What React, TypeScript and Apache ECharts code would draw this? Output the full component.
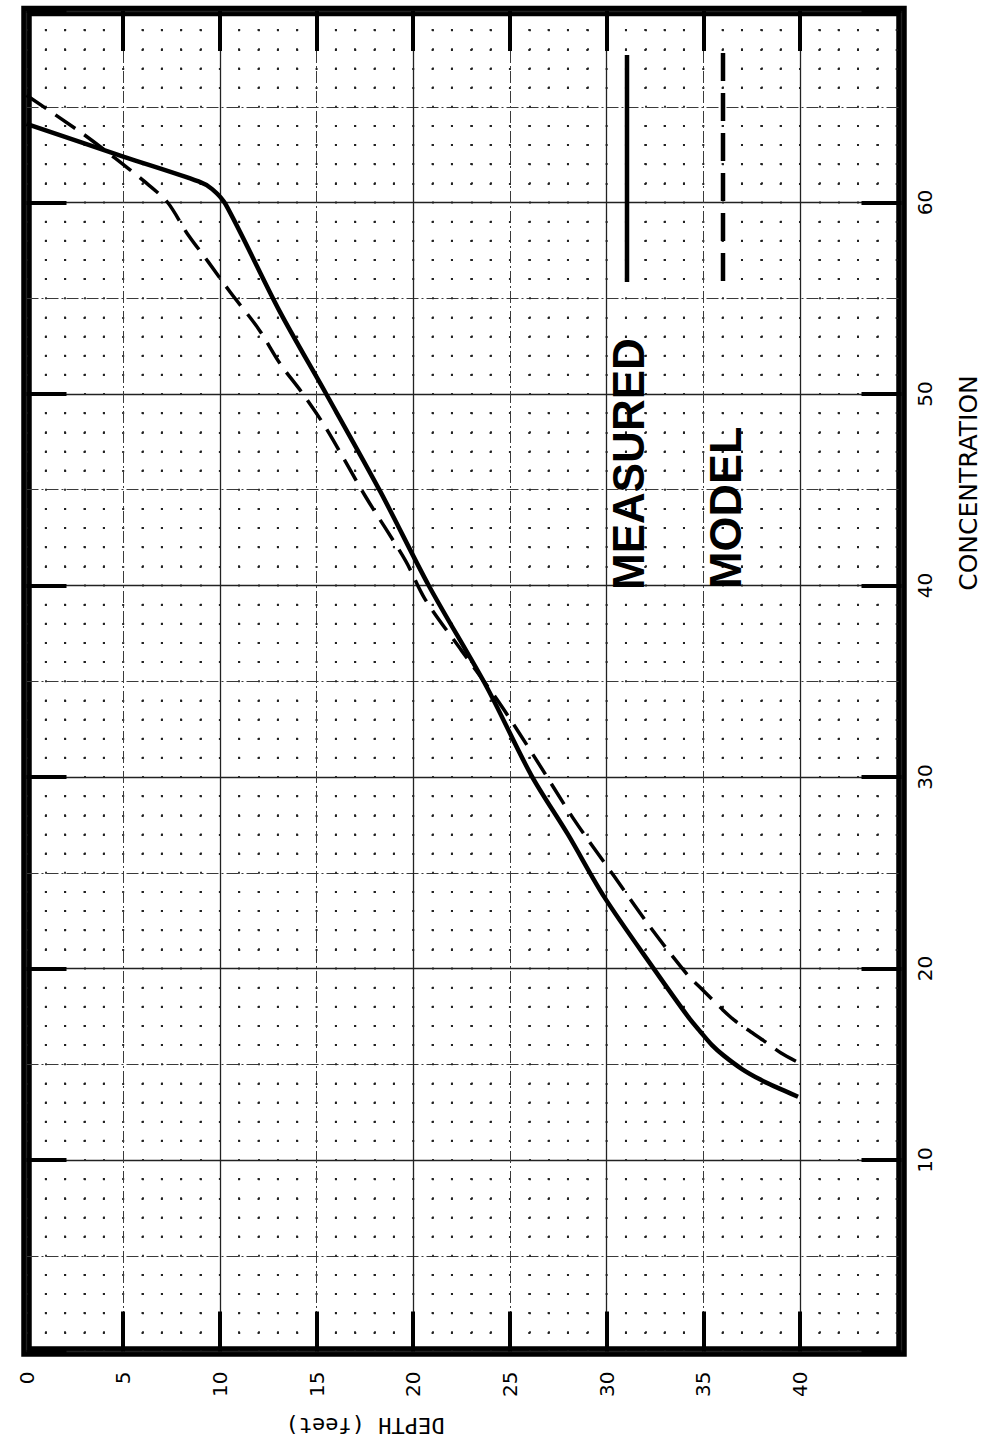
import React, { useEffect, useRef } from 'react';
import * as echarts from 'echarts';

// Tick labels / marks
const depthLabels = [0, 5, 10, 15, 20, 25, 30, 35, 40];
const depthMarks = [5, 10, 15, 20, 25, 30, 35, 40];
const concLabels = [10, 20, 30, 40, 50, 60];

// MEASURED curve (depth in feet, concentration)
const measuredDepth = [0, 5, 8.9, 9.6, 10.3, 13.1, 15.5, 18.3, 20.8, 23.8, 26.1, 28.0, 29.9, 32.5, 34.2, 34.85, 35.45, 36.06, 37.0, 37.95, 39.0, 39.9];
const measuredConc = [64.1, 62.4, 61.1, 60.7, 59.9, 54.3, 50.0, 44.9, 40.0, 34.7, 30.1, 27.0, 23.7, 19.9, 17.5, 16.7, 16.0, 15.45, 14.75, 14.2, 13.7, 13.3];

// MODEL curve
const modelDepth = [0, 2.9, 4.6, 6.1, 7.3, 8.3, 9.4, 10.55, 12.0, 13.1, 14.3, 15.5, 17.5, 19.6, 20.6, 22.5, 24.5, 26.3, 28.3, 30.4, 32.3, 34.2, 34.8, 35.4, 36.0, 36.6, 37.3, 38.1, 39.0, 39.9];
const modelConc = [65.6, 63.6, 62.3, 61.1, 60.0, 58.4, 56.9, 55.3, 53.4, 51.6, 50.0, 48.2, 44.7, 41.3, 39.3, 36.6, 33.8, 31.0, 27.8, 24.8, 22.1, 19.65, 19.05, 18.45, 17.85, 17.3, 16.8, 16.25, 15.6, 15.1];

const X_MAX = 45.25;
const Y_MAX = 70;

export default function App() {
  const ref = useRef<HTMLDivElement>(null);
  useEffect(() => {
    document.body.style.margin = '0';
    const chart = echarts.init(ref.current!, null, { renderer: 'svg' });
    const zip = (xs: number[], ys: number[]) => xs.map((x, i) => [x, ys[i]]);
    const gridL = 26.5, gridR = 84.5, gridT = 11, gridB = 100.5;
    const W = 986 - gridL - gridR;
    const H = 1452 - gridT - gridB;
    const xStep = W / X_MAX;
    const yStep = H / Y_MAX;
    const dotColor = '#222';
    const midLine = { color: '#3a3a3a', width: 1, type: [12, 3, 2, 3] as any };
    const majorLine = { color: '#222', width: 1.3 };
    const tickStyle = { color: '#000', width: 4 };
    const labelFont = { color: '#000', fontFamily: 'DejaVu Sans', fontSize: 20 };
    const noLine = { show: false, onZero: false };
    const hidden = { axisLine: noLine, axisTick: { show: false }, axisLabel: { show: false } };

    chart.setOption({
      animation: false,
      backgroundColor: '#fff',
      grid: {
        left: gridL, right: gridR, top: gridT, bottom: gridB,
        show: true, borderColor: '#000', borderWidth: 10.5, backgroundColor: 'transparent',
      },
      xAxis: [
        {
          type: 'value', position: 'bottom', min: 0, max: X_MAX, interval: 5,
          axisLine: noLine,
          axisTick: { show: true, inside: true, length: 40, customValues: depthMarks, lineStyle: tickStyle },
          axisLabel: { show: true, customValues: depthLabels, rotate: 90, margin: 20, ...labelFont },
          splitLine: { show: true, lineStyle: midLine },
          minorTick: { show: false, splitNumber: 5 },
          minorSplitLine: { show: true, lineStyle: { color: dotColor, width: 1.8, type: [2, yStep - 2], dashOffset: 1 } },
        },
        {
          type: 'value', position: 'bottom', min: 0, max: X_MAX, interval: 10, ...hidden,
          splitLine: { show: true, lineStyle: majorLine },
        },
        {
          type: 'value', position: 'top', min: 0, max: X_MAX, interval: 5,
          axisLine: noLine,
          axisTick: { show: true, inside: true, length: 40, customValues: depthMarks, lineStyle: tickStyle },
          axisLabel: { show: false },
          splitLine: { show: false },
        },
      ],
      yAxis: [
        {
          type: 'value', position: 'left', min: 0, max: Y_MAX, interval: 5, ...hidden,
          splitLine: { show: true, lineStyle: midLine },
          minorTick: { show: false, splitNumber: 5 },
          minorSplitLine: { show: true, lineStyle: { color: dotColor, width: 1.8, type: [2, xStep - 2], dashOffset: 1 } },
        },
        {
          type: 'value', position: 'left', min: 0, max: Y_MAX, interval: 10,
          axisLine: noLine,
          axisTick: { show: true, inside: true, length: 40, lineStyle: tickStyle },
          axisLabel: { show: false },
          splitLine: { show: true, lineStyle: majorLine },
        },
        {
          type: 'value', position: 'right', min: 0, max: Y_MAX, interval: 10,
          axisLine: noLine,
          axisTick: { show: true, inside: true, length: 40, lineStyle: tickStyle },
          axisLabel: { show: true, customValues: concLabels, rotate: 90, margin: 13, ...labelFont },
          splitLine: { show: false },
        },
      ],
      series: [
        {
          name: 'MEASURED', type: 'line', xAxisIndex: 0, yAxisIndex: 0,
          data: zip(measuredDepth, measuredConc),
          symbol: 'none', smooth: 0.3, clip: false, z: 5,
          lineStyle: { color: '#000', width: 4.5, join: 'round' },
        },
        {
          name: 'MODEL', type: 'line', xAxisIndex: 0, yAxisIndex: 0,
          data: zip(modelDepth, modelConc),
          symbol: 'none', smooth: 0.3, clip: false, z: 5,
          lineStyle: { color: '#000', width: 3.5, type: [24, 11], join: 'round' },
        },
      ],
      graphic: [
        {
          type: 'text', x: 628.5, y: 590, rotation: Math.PI / 2, z: 10,
          style: { text: 'MEASURED', fontFamily: 'Liberation Sans', fontWeight: 'bold', fontSize: 44, fill: '#000', align: 'left', verticalAlign: 'middle' },
        },
        {
          type: 'text', x: 725.5, y: 589, rotation: Math.PI / 2, z: 10,
          style: { text: 'MODEL', fontFamily: 'Liberation Sans', fontWeight: 'bold', fontSize: 45, fill: '#000', align: 'left', verticalAlign: 'middle' },
        },
        {
          type: 'line', z: 10, shape: { x1: 627, y1: 55, x2: 627, y2: 282 },
          style: { stroke: '#000', lineWidth: 4.5 },
        },
        {
          type: 'line', z: 10, shape: { x1: 723, y1: 53, x2: 723, y2: 282 },
          style: { stroke: '#000', lineWidth: 4.5, lineDash: [28, 12] },
        },
        {
          type: 'text', x: 365, y: 1425, rotation: Math.PI, z: 10,
          style: { text: 'DEPTH (feet)', fontFamily: 'DejaVu Sans Mono', fontSize: 22, fill: '#000', align: 'center', verticalAlign: 'middle' },
        },
        {
          type: 'text', x: 968, y: 483, rotation: Math.PI / 2, z: 10,
          style: { text: 'CONCENTRATION', fontFamily: 'DejaVu Sans', fontSize: 25, fill: '#000', align: 'center', verticalAlign: 'middle' },
        },
      ],
    });
    return () => chart.dispose();
  }, []);
  return <div ref={ref} style={{ width: 986, height: 1452 }} />;
}
